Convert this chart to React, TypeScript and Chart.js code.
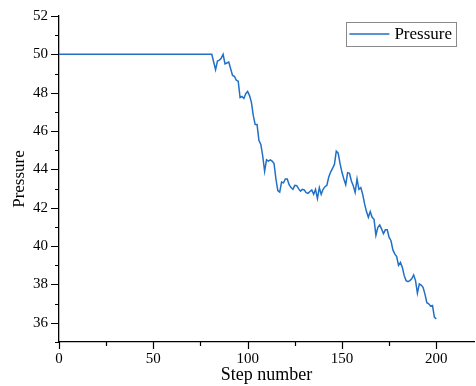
import React, { useEffect, useRef } from "react";
import { Chart, registerables } from "chart.js";

Chart.register(...registerables);

const flatSteps: number[] = Array.from({ length: 82 }, (_, i) => i);
const flatValue = 50;

const steps: number[] = [];
const pressureTail: number[] = [
  49.6, 49.2, 49.65, 49.7, 49.8, 50.0, 49.5, 49.55, 49.6, 49.25,
  48.9, 48.85, 48.65, 48.6, 47.75, 47.8, 47.7, 47.95, 48.07, 47.85,
  47.5, 46.8, 46.34, 46.34, 45.5, 45.3, 44.7, 43.9, 44.5, 44.43,
  44.5, 44.43, 44.3, 43.5, 42.9, 42.82, 43.34, 43.3, 43.5, 43.5,
  43.2, 43.05, 42.96, 43.17, 43.15, 43.0, 42.87, 42.96, 42.93, 42.79,
  42.75, 42.85, 42.93, 42.7, 42.96, 42.48, 43.05, 42.7, 42.96, 43.1,
  43.17, 43.6, 43.86, 44.05, 44.26, 44.95, 44.85, 44.3, 43.85, 43.5,
  43.2, 43.83, 43.8, 43.4, 43.15, 42.8, 43.5, 42.96, 43.05, 42.7,
  42.2, 41.8, 41.5, 41.8, 41.5, 41.4, 40.57, 40.97, 41.1, 40.9,
  40.65, 40.85, 40.85, 40.45, 40.28, 39.8, 39.6, 39.45, 39.0, 39.15,
  38.9, 38.46, 38.2, 38.15, 38.2, 38.3, 38.5, 38.2, 37.55, 38.03,
  37.97, 37.85, 37.5, 37.05, 36.99, 36.87, 36.9, 36.3, 36.2,
];

const xTicks: number[] = [0, 50, 100, 150, 200];
const yTicks: number[] = [36, 38, 40, 42, 44, 46, 48, 50, 52];
const seriesLabel = "Pressure";
const xTitle = "Step number";
const yTitle = "Pressure";

const pressure: number[] = [];
flatSteps.forEach((s) => {
  steps.push(s);
  pressure.push(flatValue);
});
pressureTail.forEach((v, i) => {
  steps.push(82 + i);
  pressure.push(v);
});

const LINE_COLOR = "#2170c6";
const FONT = "'Liberation Serif', 'Times New Roman', serif";

const tickPlugin = {
  id: "originTicks",
  afterDraw(chart: any) {
    const { ctx, chartArea, scales } = chart;
    const xs = scales.x;
    const ys = scales.y;
    ctx.save();
    ctx.strokeStyle = "#000";
    ctx.lineWidth = 1.2;
    ctx.beginPath();
    for (let v = 35; v <= 52; v += 1) {
      const y = Math.round(ys.getPixelForValue(v)) + 0.5;
      const len = v % 2 === 0 ? 8 : 4;
      ctx.moveTo(chartArea.left - len, y);
      ctx.lineTo(chartArea.left, y);
    }
    for (let v = 0; v <= 220; v += 25) {
      const x = Math.round(xs.getPixelForValue(v)) + 0.5;
      const len = v % 50 === 0 ? 7 : 4;
      ctx.moveTo(x, chartArea.bottom);
      ctx.lineTo(x, chartArea.bottom + len);
    }
    ctx.stroke();

    // legend
    ctx.font = `17px ${FONT}`;
    const tw = ctx.measureText(seriesLabel).width;
    const lineLen = 40;
    const boxW = 3 + lineLen + 5 + tw + 4;
    const boxH = 24;
    const bx = chartArea.right - 18 - boxW;
    const by = chartArea.top + 6;
    ctx.strokeStyle = "#8a8a8a";
    ctx.lineWidth = 1;
    ctx.strokeRect(Math.round(bx) + 0.5, Math.round(by) + 0.5, Math.round(boxW), boxH);
    ctx.strokeStyle = LINE_COLOR;
    ctx.lineWidth = 1.5;
    ctx.beginPath();
    ctx.moveTo(bx + 3, by + boxH / 2);
    ctx.lineTo(bx + 3 + lineLen, by + boxH / 2);
    ctx.stroke();
    ctx.fillStyle = "#000";
    ctx.textBaseline = "middle";
    ctx.textAlign = "left";
    ctx.fillText(seriesLabel, bx + 3 + lineLen + 5, by + boxH / 2 + 1);
    ctx.restore();
  },
};

export default function App() {
  const ref = useRef<HTMLCanvasElement | null>(null);
  useEffect(() => {
    if (!ref.current) return;
    const chart = new Chart(ref.current, {
      type: "line",
      data: {
        datasets: [
          {
            label: seriesLabel,
            data: steps.map((s, i) => ({ x: s, y: pressure[i] })),
            borderColor: LINE_COLOR,
            borderWidth: 1.5,
            pointRadius: 0,
            tension: 0,
            fill: false,
          },
        ],
      },
      options: {
        animation: false,
        responsive: false,
        devicePixelRatio: 1,
        layout: { padding: { top: 16, right: 2, left: 0, bottom: 0 } },
        plugins: { legend: { display: false }, tooltip: { enabled: false } },
        scales: {
          x: {
            type: "linear",
            min: 0,
            max: 220,
            afterBuildTicks: (s: any) => {
              s.ticks = xTicks.map((v) => ({ value: v }));
            },
            afterFit: (s: any) => {
              s.height = 44;
              s.paddingLeft = 0;
              s.paddingRight = 0;
            },
            grid: { display: false, drawTicks: false },
            border: { display: true, color: "#000", width: 1.3 },
            ticks: {
              color: "#000",
              padding: 8,
              maxRotation: 0,
              autoSkip: false,
              font: { family: FONT, size: 15 },
            },
            title: {
              display: true,
              text: xTitle,
              color: "#000",
              font: { family: FONT, size: 18 },
              padding: { top: 0, bottom: 0 },
            },
          },
          y: {
            type: "linear",
            min: 35,
            max: 52,
            afterBuildTicks: (s: any) => {
              s.ticks = yTicks.map((v) => ({ value: v }));
            },
            afterFit: (s: any) => {
              s.width = 59;
              s.paddingTop = 0;
              s.paddingBottom = 0;
            },
            grid: { display: false, drawTicks: false },
            border: { display: true, color: "#000", width: 1.3 },
            ticks: {
              color: "#000",
              padding: 11,
              autoSkip: false,
              font: { family: FONT, size: 15 },
            },
            title: {
              display: true,
              text: yTitle,
              color: "#000",
              font: { family: FONT, size: 17 },
              padding: { top: 9, bottom: 0 },
            },
          },
        },
      },
      plugins: [tickPlugin],
    });
    return () => chart.destroy();
  }, []);
  return (
    <div style={{ position: "absolute", left: 0, top: 0, width: 476, height: 386, background: "#fff" }}>
      <canvas ref={ref} width={476} height={386} style={{ width: 476, height: 386 }} />
    </div>
  );
}
